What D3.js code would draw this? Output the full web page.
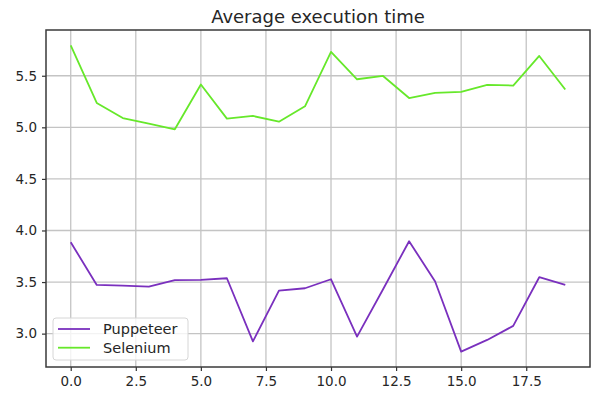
<!DOCTYPE html>
<html>
<head>
<meta charset="utf-8">
<script src="https://cdn.jsdelivr.net/npm/d3@7"></script>
<style>
  body { margin: 0; background: #fff; }
  text { font-family: "DejaVu Sans", sans-serif; fill: #262626; }
</style>
</head>
<body>
<div id="chart"></div>
<script>
// run index 0..19
const runs = d3.range(20);
const puppeteer = [3.886, 3.472, 3.466, 3.456, 3.518, 3.521, 3.537, 2.925, 3.417, 3.440,
                   3.527, 2.971, 3.430, 3.896, 3.505, 2.825, 2.939, 3.075, 3.547, 3.473];
const selenium = [5.795, 5.236, 5.090, 5.036, 4.981, 5.415, 5.084, 5.110, 5.055, 5.204,
                  5.731, 5.466, 5.498, 5.284, 5.333, 5.343, 5.411, 5.405, 5.692, 5.366];
const xTicks = [0, 2.5, 5, 7.5, 10, 12.5, 15, 17.5];
const yTicks = [3.0, 3.5, 4.0, 4.5, 5.0, 5.5];
const series = [
  { name: "Puppeteer", values: puppeteer, color: "#7a30be" },
  { name: "Selenium", values: selenium, color: "#66e82a" }
];

const width = 600, height = 398;
const margin = { top: 30, right: 10, bottom: 31, left: 46 };

const svg = d3.select("#chart").append("svg")
  .attr("width", width)
  .attr("height", height);

// matplotlib style 5% padding
const all = puppeteer.concat(selenium);
const yMin = d3.min(all), yMax = d3.max(all);
const yPad = (yMax - yMin) * 0.05;
const xPad = 19 * 0.05;

const x = d3.scaleLinear()
  .domain([-xPad, 19 + xPad])
  .range([margin.left, width - margin.right]);
const y = d3.scaleLinear()
  .domain([yMin - yPad, yMax + yPad])
  .range([height - margin.bottom, margin.top]);

const g = svg.append("g");

// grid
g.selectAll(".vgrid").data(xTicks).enter().append("line")
  .attr("x1", d => x(d)).attr("x2", d => x(d))
  .attr("y1", margin.top).attr("y2", height - margin.bottom)
  .attr("stroke", "#c4c4c4").attr("stroke-width", 1.3);
g.selectAll(".hgrid").data(yTicks).enter().append("line")
  .attr("x1", margin.left).attr("x2", width - margin.right)
  .attr("y1", d => y(d)).attr("y2", d => y(d))
  .attr("stroke", "#c4c4c4").attr("stroke-width", 1.3);

// lines
const line = d3.line()
  .x((d, i) => x(runs[i]))
  .y(d => y(d));

series.forEach(s => {
  g.append("path")
    .datum(s.values)
    .attr("d", line)
    .attr("fill", "none")
    .attr("stroke", s.color)
    .attr("stroke-width", 1.8)
    .attr("stroke-linejoin", "round");
});

// axes
const xAxis = d3.axisBottom(x).tickValues(xTicks).tickFormat(d3.format(".1f")).tickSize(4).tickPadding(5);
const yAxis = d3.axisLeft(y).tickValues(yTicks).tickFormat(d3.format(".1f")).tickSize(4).tickPadding(5);

const gx = svg.append("g")
  .attr("transform", `translate(0,${height - margin.bottom})`)
  .call(xAxis);
const gy = svg.append("g")
  .attr("transform", `translate(${margin.left},0)`)
  .call(yAxis);

[gx, gy].forEach(a => {
  a.select(".domain").remove();
  a.selectAll(".tick line").attr("stroke", "#333").attr("stroke-width", 1.2);
  a.selectAll(".tick text")
    .style("font-family", "DejaVu Sans, sans-serif")
    .style("font-size", "13.5px")
    .attr("fill", "#262626");
});

// spines
svg.append("rect")
  .attr("x", margin.left).attr("y", margin.top)
  .attr("width", width - margin.left - margin.right)
  .attr("height", height - margin.top - margin.bottom)
  .attr("fill", "none")
  .attr("stroke", "#3a3a3a")
  .attr("stroke-width", 1.5);

// title
svg.append("text")
  .attr("x", (margin.left + width - margin.right) / 2)
  .attr("y", 23)
  .attr("text-anchor", "middle")
  .style("font-size", "18px")
  .text("Average execution time");

// legend
const legend = svg.append("g").attr("transform", "translate(53,318)");
legend.append("rect")
  .attr("width", 135).attr("height", 42)
  .attr("rx", 3)
  .attr("fill", "#fff").attr("fill-opacity", 0.8)
  .attr("stroke", "#d6d6d6").attr("stroke-width", 1);

series.forEach((s, i) => {
  const row = legend.append("g").attr("transform", `translate(0,${11 + i * 18.7})`);
  row.append("line")
    .attr("x1", 5).attr("x2", 37)
    .attr("stroke", s.color).attr("stroke-width", 1.8);
  row.append("text")
    .attr("x", 50).attr("y", 5)
    .style("font-size", "14.5px")
    .text(s.name);
});
</script>
</body>
</html>
